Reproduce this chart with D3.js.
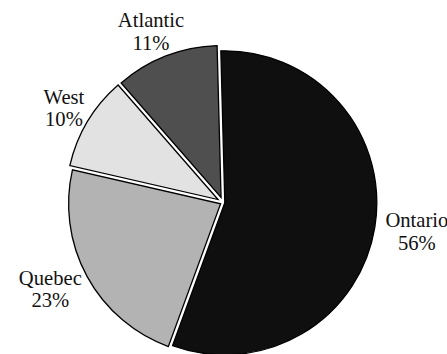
<!DOCTYPE html>
<html><head><meta charset="utf-8">
<script src="https://cdn.jsdelivr.net/npm/d3@7"></script>
<style>
html,body{margin:0;padding:0;background:#fff;}
svg{display:block}
</style>
</head><body>
<svg id="chart" width="447" height="354"></svg>
<script>
const regions = ["Ontario", "Quebec", "West", "Atlantic"];
const shares = [56, 23, 10, 11];
const shades = ["#0f0f0f", "#b3b3b3", "#e2e2e2", "#4f4f4f"];

const svg = d3.select("#chart");

// pick an installed serif face
const candidates = ["Liberation Serif", "Tinos", "Times New Roman", "Nimbus Roman", "Nimbus Roman No9 L", "DejaVu Serif", "Noto Serif"];
function widthOf(fam) {
  const t = svg.append("text").attr("x", -999).attr("y", -999)
    .style("font-family", fam).style("font-size", "40px").text("Atlantic Quebec 0123%");
  const w = t.node().getComputedTextLength();
  t.remove();
  return w;
}
const baseMono = widthOf("monospace"), baseSans = widthOf("sans-serif");
let face = "serif";
for (const f of candidates) {
  if (widthOf(`"${f}", monospace`) !== baseMono || widthOf(`"${f}", sans-serif`) !== baseSans) { face = `"${f}", serif`; break; }
}
// size the face so "Ontario" is ~63px wide, as in the reference
const probe = svg.append("text").attr("x", -999).attr("y", -999)
  .style("font-family", face).style("font-size", "20px").text("Ontario");
let fontSize = 20 * 63 / probe.node().getComputedTextLength();
probe.remove();
fontSize = Math.max(16, Math.min(21, fontSize));

const cx = 223, cy = 202.5, radius = 152, gap = 1.8, labelR = 165;
const start = -1.5 * Math.PI / 180;

const pie = d3.pie().sort(null).value(d => d).startAngle(start).endAngle(start + 2 * Math.PI);
const arcs = pie(shares);
const arc = d3.arc().innerRadius(0).outerRadius(radius);

const g = svg.append("g").attr("transform", `translate(${cx},${cy})`);

arcs.forEach((a, i) => {
  const mid = (a.startAngle + a.endAngle) / 2;
  const half = (a.endAngle - a.startAngle) / 2;
  const t = Math.min(gap / Math.sin(half), 6);
  const dx = t * Math.sin(mid), dy = -t * Math.cos(mid);
  g.append("path")
    .attr("d", arc(a))
    .attr("transform", `translate(${dx},${dy})`)
    .attr("fill", shades[i])
    .attr("stroke", "#000")
    .attr("stroke-width", 1.3)
    .attr("stroke-linejoin", "miter");
});

arcs.forEach((a, i) => {
  const mid = (a.startAngle + a.endAngle) / 2;
  const txt = g.append("text").attr("text-anchor", "middle")
    .style("font-family", face).style("font-size", fontSize + "px").style("fill", "#111");
  const t1 = txt.append("tspan").attr("x", 0).attr("y", -5).text(regions[i]);
  const t2 = txt.append("tspan").attr("x", 0).attr("y", 17.5).text(shares[i] + "%");
  const w = Math.max(t1.node().getComputedTextLength(), t2.node().getComputedTextLength());
  const x = labelR * Math.sin(mid) + Math.sin(mid) * w / 2;
  const y = -labelR * Math.cos(mid) - Math.cos(mid) * 18;
  txt.attr("transform", `translate(${x},${y})`);
});
</script>
</body></html>
